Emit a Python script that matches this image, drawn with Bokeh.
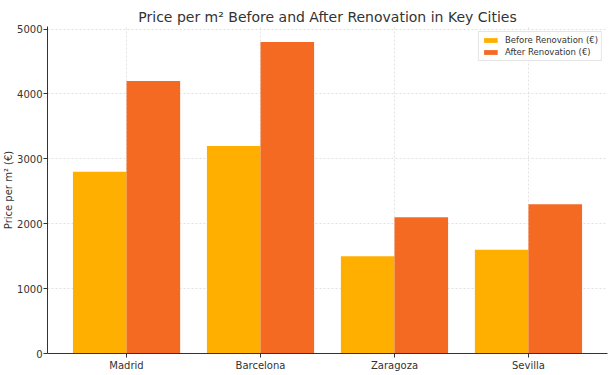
from bokeh.plotting import figure
from bokeh.models import FixedTicker, Range1d, ColumnDataSource, Legend, LegendItem
from bokeh.embed import file_html
from bokeh.resources import INLINE

cities = ["Madrid", "Barcelona", "Zaragoza", "Sevilla"]
before = [2800, 3200, 1500, 1600]
after = [4200, 4800, 2100, 2300]
yticks = [0, 1000, 2000, 3000, 4000, 5000]

idx = list(range(len(cities)))
src = ColumnDataSource(dict(
    xb=[i - 0.2 for i in idx], xa=[i + 0.2 for i in idx],
    before=before, after=after))

FONT = "DejaVu Sans"
p = figure(width=615, height=375, output_backend="svg", toolbar_location=None,
           x_range=Range1d(-0.59, 3.59), y_range=Range1d(0, 5040),
           min_border_left=0, min_border_right=8, min_border_bottom=22, min_border_top=26)
p.title.text = "Price per m² Before and After Renovation in Key Cities"
p.title.align = "center"
p.title.text_font = FONT
p.title.text_font_size = "14px"
p.title.text_font_style = "normal"
p.title.text_color = "#333333"
p.title.standoff = 4
p.outline_line_color = None
p.background_fill_color = "white"

rb = p.vbar(x="xb", top="before", width=0.4, source=src, fill_color="#FFAF00", line_color=None)
ra = p.vbar(x="xa", top="after", width=0.4, source=src, fill_color="#F46A23", line_color=None)

p.xaxis.ticker = FixedTicker(ticks=idx)
p.xaxis.major_label_overrides = {i: c for i, c in zip(idx, cities)}
p.yaxis.ticker = FixedTicker(ticks=yticks)
p.yaxis.axis_label = "Price per m² (€)"
for ax in (p.xaxis, p.yaxis):
    ax.major_label_text_font = FONT
    ax.major_label_text_font_size = "10px"
    ax.major_label_text_color = "#333333"
    ax.axis_line_color = "#333333"
    ax.major_tick_line_color = "#333333"
    ax.major_tick_out = 4
    ax.major_tick_in = 0
    ax.minor_tick_line_color = None
    ax.axis_label_text_font = FONT
    ax.axis_label_text_font_size = "10px"
    ax.axis_label_text_font_style = "normal"
    ax.axis_label_text_color = "#333333"
    ax.major_label_standoff = 2
p.yaxis.major_label_standoff = 1
p.yaxis.axis_label_standoff = 0

for g in (p.xgrid, p.ygrid):
    g.grid_line_color = "#d5d5d5"
    g.grid_line_dash = "2 2"
    g.grid_line_width = 0.7

legend = Legend(items=[LegendItem(label="Before Renovation (€)", renderers=[rb]),
                       LegendItem(label="After Renovation (€)", renderers=[ra])],
                location="top_right")
legend.label_text_font = FONT
legend.label_text_font_size = "8.5px"
legend.label_text_color = "#333333"
legend.glyph_width = 17
legend.glyph_height = 6
legend.label_height = 10
legend.label_standoff = 6
legend.spacing = 2
legend.padding = 3
legend.margin = 5
legend.border_line_color = "#cccccc"
legend.background_fill_alpha = 0.8
p.add_layout(legend)

open("out.html", "w").write(file_html(p, INLINE))
